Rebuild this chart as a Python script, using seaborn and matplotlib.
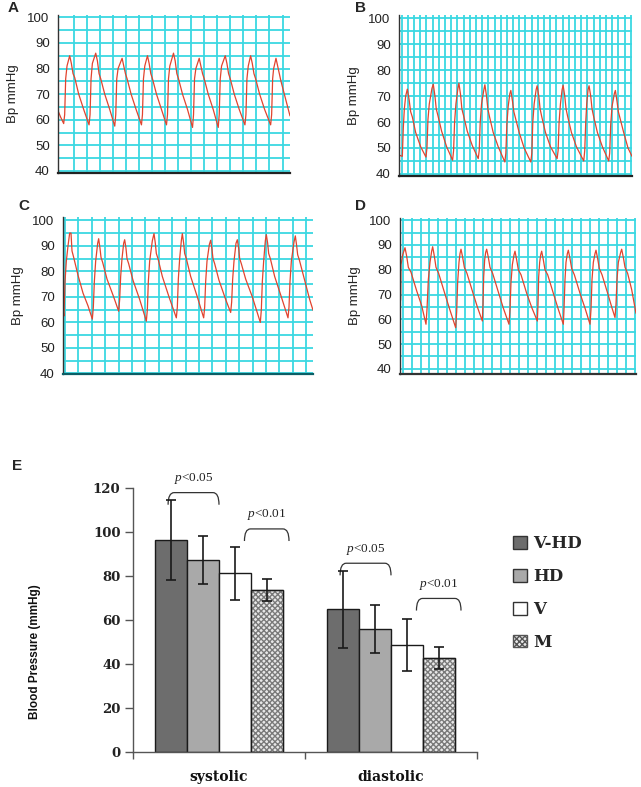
import numpy as np
import pandas as pd
import matplotlib
matplotlib.use("Agg")
import matplotlib.pyplot as plt
from matplotlib.patches import Patch, PathPatch
from matplotlib.path import Path
import seaborn as sns

trace_a = [(0, 63.5), (8, 61), (17, 58.5),
           (20, 62), (23, 76), (27, 81), (35, 85), (40, 82), (45, 78), (50, 76.5), (62, 70), (77, 64), (93, 58),
           (96, 62), (99, 76), (103, 82), (113, 86), (118, 83), (123, 78), (128, 76), (140, 70), (155, 64), (170, 57.5),
           (173, 62), (176, 76), (180, 80), (192, 84), (197, 81), (202, 78), (207, 76), (219, 70), (234, 64), (250, 58),
           (253, 62), (256, 76), (260, 81), (268, 85), (273, 82), (278, 78), (283, 76), (295, 70), (310, 64), (325, 58),
           (328, 62), (331, 76), (335, 81), (346, 86), (351, 83), (356, 78), (361, 76), (373, 70), (388, 64), (403, 57),
           (406, 62), (409, 76), (413, 80), (423, 84), (428, 81), (433, 78), (438, 76), (450, 70), (465, 64), (480, 57),
           (483, 62), (486, 76), (490, 81), (501, 85), (506, 82), (511, 78), (516, 76), (528, 70), (543, 64), (560, 58),
           (563, 62), (566, 76), (570, 81), (577, 85), (582, 82), (587, 78), (592, 76), (604, 70), (619, 64), (637, 58),
           (640, 62), (643, 76), (646, 80), (653, 84), (658, 81), (663, 78), (668, 75), (680, 69), (695, 61.5)]

trace_b = [(0, 47.4), (5, 47), (10, 46.8), (13, 58), (16, 65), (20, 70), (25, 72.7), (30, 69), (35, 64), (40, 62), (50, 56), (65, 50.5), (81, 46.5),
           (84, 50), (87, 61), (91, 67), (99, 73), (103, 74.6), (108, 70), (112, 65), (117, 62.5), (128, 56.5), (143, 50.5), (161, 45.3),
           (164, 49), (167, 60), (171, 67), (177, 73), (180, 75), (185, 70.5), (189, 65), (194, 62.5), (205, 56.5), (220, 51), (238, 45.9),
           (241, 49), (244, 60), (248, 67), (255, 72.5), (258, 74.4), (263, 70), (267, 65), (272, 62), (283, 56), (298, 50.5), (318, 44.6),
           (321, 48), (324, 59), (328, 66), (333, 71), (336, 72.2), (341, 68), (345, 64), (350, 61.5), (361, 56), (376, 50), (396, 44.6),
           (399, 48), (402, 60), (406, 67), (412, 72.5), (415, 74), (420, 70), (424, 65), (429, 62), (440, 56), (455, 50.5), (475, 45.9),
           (478, 49), (481, 60), (485, 67), (490, 72.5), (493, 74.2), (498, 70), (502, 65), (507, 62), (518, 56), (533, 50.5), (555, 45),
           (558, 49), (561, 60), (564, 67), (568, 72.5), (571, 74), (576, 70), (580, 65), (585, 62), (596, 56), (611, 50.5), (630, 45),
           (633, 48), (636, 59), (640, 66), (647, 71), (650, 72.2), (655, 68), (659, 64), (664, 61.5), (675, 56), (688, 50), (700, 46.8)]

trace_c = [(0, 64.8), (3, 62.5), (6, 76), (10, 84), (15, 90), (20, 95), (24, 95), (27, 88), (32, 85.5), (45, 78.5), (60, 71.5), (75, 66.5), (88, 61.3),
           (91, 66), (94, 76), (98, 84), (104, 91), (107, 92.8), (111, 89), (114, 85.5), (119, 83.5), (132, 77), (152, 70), (167, 64.4),
           (170, 69), (173, 78), (177, 85), (182, 91), (185, 92.4), (189, 89), (192, 85), (197, 83), (210, 76.5), (230, 69), (250, 60.5),
           (253, 65), (256, 76), (260, 84), (268, 92), (273, 94.8), (277, 91), (280, 87), (285, 85), (298, 78), (318, 70), (340, 61.8),
           (343, 66), (346, 77), (350, 85), (355, 92), (358, 94.8), (362, 91), (365, 87), (370, 85), (383, 78), (403, 70), (422, 61.8),
           (425, 66), (428, 76), (432, 84), (439, 90.5), (443, 92.2), (447, 88.5), (450, 85), (455, 83), (468, 76.5), (488, 69), (503, 63.9),
           (506, 68), (509, 77), (513, 84), (519, 91), (523, 92.4), (527, 89), (530, 85), (535, 83), (548, 77), (568, 70), (592, 60),
           (595, 65), (598, 76), (602, 84), (607, 92), (610, 94.4), (614, 91), (617, 87), (622, 85), (635, 78), (655, 70), (675, 61.8),
           (678, 66), (681, 76), (685, 84), (693, 91.5), (697, 93.9), (701, 90), (704, 86.5), (709, 84.5), (722, 78), (740, 69), (750, 64.8)]

trace_d = [(0, 66.4), (2, 68), (3, 82), (8, 86), (15, 88.9), (20, 85.5), (25, 81), (33, 79), (50, 71.5), (65, 65.5), (78, 58),
           (81, 64), (85, 76), (90, 83), (95, 87.5), (98, 89.3), (103, 85.5), (108, 81), (116, 78.5), (133, 71), (148, 64.5), (167, 56.6),
           (170, 63), (173, 75), (177, 83), (180, 86.5), (183, 88.3), (188, 85), (193, 81), (201, 78.5), (218, 71), (232, 65), (247, 59.3),
           (249, 66), (251, 77), (254, 84), (257, 87), (260, 88.3), (265, 85), (270, 81), (278, 78.5), (295, 71), (310, 64.5), (327, 58),
           (330, 64), (333, 75), (337, 82), (342, 86), (345, 87.5), (350, 84), (355, 80), (363, 78), (380, 70.5), (396, 64.5), (412, 59.3),
           (414, 66), (416, 77), (419, 83), (422, 86), (425, 87.5), (430, 84), (435, 80), (443, 78), (460, 70.5), (475, 64), (490, 58),
           (492, 64), (495, 76), (498, 83), (502, 86.5), (505, 87.9), (510, 84.5), (515, 80.5), (523, 78), (540, 70.5), (555, 64.5), (570, 58),
           (573, 64), (576, 76), (580, 83), (585, 86.5), (588, 87.9), (593, 84.5), (598, 80.5), (606, 78), (623, 70.5), (635, 65), (645, 60.7),
           (648, 66), (651, 76), (655, 83), (662, 87), (665, 88.3), (670, 85), (675, 81), (683, 78.5), (695, 72), (708, 62.4)]

# ---- panel E: mean +/- SD blood pressure
groups = ["V-HD", "HD", "V", "M"]
phases = ["systolic", "diastolic"]
systolic_mean = [96.5, 87.4, 81.2, 73.6]
systolic_sd = [18.1, 11.0, 12.2, 5.0]
diastolic_mean = [64.8, 55.8, 48.5, 42.8]
diastolic_sd = [17.7, 11.0, 11.9, 4.9]
p_labels = ["p<0.05", "p<0.01"]

W, H = 641, 787
sns.set_style("ticks")
plt.rcParams["font.family"] = ["Liberation Sans", "DejaVu Sans"]
plt.rcParams["mathtext.fontset"] = "custom"
plt.rcParams["mathtext.it"] = "Liberation Serif:italic"
plt.rcParams["mathtext.rm"] = "Liberation Serif"

fig = plt.figure(figsize=(W / 100, H / 100), dpi=100)


def add_ax(l, t, r, b):
    return fig.add_axes([l / W, 1 - b / H, (r - l) / W, (b - t) / H])


GRID = "#3ad8e2"
RED = "#e2432e"

# box (px), xlim, ylim, grid start/step (trace units), bottom spine colour, letter pos
wave_panels = [
    ("A", trace_a, (58, 15, 290, 173), 695, (39.2, 100.9), 47, 39.1, "#222222", (8, 8)),
    ("B", trace_b, (399, 15, 632, 176), 700, (39.2, 101.3), 8, 18.6, "#222222", (355, 8)),
    ("C", trace_c, (63, 217, 313, 374), 750, (39.8, 101.3), 6, 40.2, "#0b5f66", (18, 206)),
    ("D", trace_d, (400, 218, 636, 374), 708, (37.9, 100.9), 8, 26.8, "#333333", (355, 206)),
]

for letter, trace, box, xmax, ylim, g0, gstep, bcol, lpos in wave_panels:
    ax = add_ax(*box)
    df = pd.DataFrame(trace, columns=["t", "bp"])
    sns.lineplot(data=df, x="t", y="bp", ax=ax, color=RED, linewidth=0.9,
                 estimator=None, sort=False)
    ax.set_xlim(0, xmax)
    ax.set_ylim(*ylim)
    ax.set_xticks(np.arange(g0, xmax, gstep))
    ax.set_yticks(range(40, 101, 10))
    ax.set_yticks(range(45, 100, 10), minor=True)
    ax.grid(which="both", color=GRID, linewidth=1.3)
    ax.set_axisbelow(True)
    ax.tick_params(which="both", length=0, labelbottom=False, pad=6)
    for lab in ax.get_yticklabels():
        lab.set_fontsize(9.5)
        lab.set_color("#222222")
    ax.set_xlabel("")
    ax.set_ylabel("Bp mmHg", fontsize=9.5, color="#222222", labelpad=6)
    sns.despine(ax=ax)
    ax.spines["left"].set_color("#333333")
    ax.spines["left"].set_linewidth(1.0)
    ax.spines["bottom"].set_color(bcol)
    ax.spines["bottom"].set_linewidth(1.6)
    fig.text(lpos[0] / W, 1 - lpos[1] / H, letter, fontsize=11, fontweight="bold",
             ha="left", va="center")

# ---- panel E
rows = []
for g, sm, ss, dm, ds in zip(groups, systolic_mean, systolic_sd, diastolic_mean, diastolic_sd):
    rows.append(("systolic", g, sm, ss))
    rows.append(("diastolic", g, dm, ds))
bp = pd.DataFrame(rows, columns=["phase", "group", "mean", "sd"])

colors = {"V-HD": "#6d6d6d", "HD": "#a9a9a9", "V": "#ffffff", "M": "#e8e8e8"}
axe = add_ax(133, 488, 477, 752)
sns.barplot(data=bp, x="phase", y="mean", hue="group", order=phases, hue_order=groups,
            palette=colors, width=0.74, errorbar=None, edgecolor="#1a1a1a",
            linewidth=1.0, legend=False, ax=axe)

centers = {}
tops = {}
for g, cont in zip(groups, axe.containers):
    sub = bp[bp.group == g].set_index("phase").loc[phases]
    xs = [p.get_x() + p.get_width() / 2 for p in cont.patches]
    bw = cont.patches[0].get_width()
    axe.errorbar(xs, sub["mean"], yerr=sub["sd"], fmt="none", ecolor="#1a1a1a",
                 elinewidth=1.2, capsize=3.5, capthick=1.2, zorder=5)
    for ph, x in zip(phases, xs):
        centers[(ph, g)] = x
        tops[(ph, g)] = sub.loc[ph, "mean"] + sub.loc[ph, "sd"]
    if g == "M":
        for p in cont.patches:
            p.set_hatch("xxxxxx")
            p.set_edgecolor("#7a7a7a")
            axe.add_patch(plt.Rectangle((p.get_x(), 0), p.get_width(), p.get_height(),
                                        fill=False, edgecolor="#1a1a1a", linewidth=1.0, zorder=3))


def bracket(ax, x1, x2, y, h, text):
    r = 0.035
    verts = [(x1, y - h), (x1, y), (x1 + r, y), (x2 - r, y), (x2, y), (x2, y - h)]
    codes = [Path.MOVETO, Path.CURVE3, Path.CURVE3, Path.LINETO, Path.CURVE3, Path.CURVE3]
    ax.add_patch(PathPatch(Path(verts, codes), fill=False, edgecolor="#333333", linewidth=0.9))
    p, rest = text[0], text[1:]
    ax.text((x1 + x2) / 2, y + 3, "$" + p + "$" + rest, ha="center", va="bottom",
            fontsize=9.5, family="Liberation Serif", color="#222222")


for ph in phases:
    x0 = centers[(ph, "V-HD")]
    x1 = centers[(ph, "HD")] + bw / 2
    y1 = tops[(ph, "V-HD")] + 3.3
    bracket(axe, x0 - 0.1 * bw, x1, y1, 5.5, p_labels[0])
    x2 = centers[(ph, "V")] + 0.3 * bw
    x3 = centers[(ph, "M")] + 0.7 * bw
    y2 = tops[(ph, "HD")] + 3.0
    bracket(axe, x2, x3, y2, 5.5, p_labels[1])

axe.set_xlim(-0.5, 1.5)
axe.set_ylim(0, 120)
axe.set_yticks(range(0, 121, 20))
axe.set_xticks([-0.5, 0.5, 1.5], minor=True)
axe.tick_params(axis="x", which="major", length=0, pad=13)
axe.tick_params(axis="x", which="minor", length=5, width=1, color="#555555", direction="out")
axe.tick_params(axis="y", length=6, width=1, color="#555555", direction="out", pad=3)
for lab in axe.get_yticklabels():
    lab.set_family("DejaVu Serif")
    lab.set_fontweight("bold")
    lab.set_fontsize(9.5)
    lab.set_color("#222222")
for lab in axe.get_xticklabels():
    lab.set_family("DejaVu Serif")
    lab.set_fontweight("bold")
    lab.set_fontsize(10)
    lab.set_color("#111111")
axe.set_xlabel("")
axe.set_ylabel("")
sns.despine(ax=axe)
for s in ("left", "bottom"):
    axe.spines[s].set_color("#555555")
    axe.spines[s].set_linewidth(1.0)

fig.text(35 / W, 1 - 652 / H, "Blood Pressure (mmHg)", rotation=90, fontsize=8.5,
         fontweight="bold", ha="center", va="center", color="#111111")
fig.text(12 / W, 1 - 466 / H, "E", fontsize=11, fontweight="bold", ha="left", va="center")

handles = []
for g in groups:
    if g == "M":
        handles.append(Patch(facecolor=colors[g], edgecolor="#555555", hatch="xxxxxx", linewidth=1))
    else:
        handles.append(Patch(facecolor=colors[g], edgecolor="#333333", linewidth=1))
fig.legend(handles, groups, loc="upper left", bbox_to_anchor=(505 / W, 1 - 527 / H),
           frameon=False, borderpad=0, handlelength=0.8, handleheight=0.8,
           handletextpad=0.4, labelspacing=0.95,
           prop={"family": "DejaVu Serif", "weight": "bold", "size": 12})

fig.savefig("out.png", dpi=100)
